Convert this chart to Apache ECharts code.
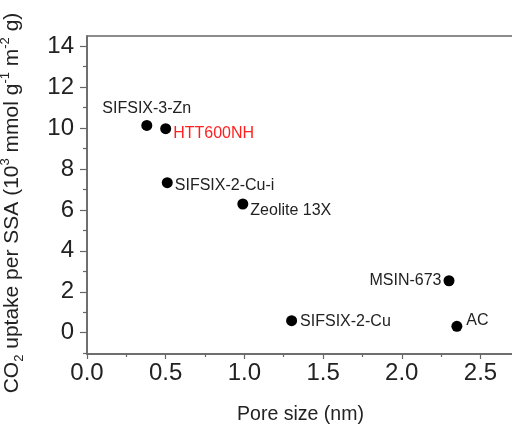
<!DOCTYPE html>
<html>
<head>
<meta charset="utf-8">
<script src="https://cdn.jsdelivr.net/npm/echarts@6/dist/echarts.min.js"></script>
<style>html,body{margin:0;padding:0;background:#fff}#c{width:512px;height:424px}</style>
</head>
<body>
<div id="c"></div>
<script>
const names = ['SIFSIX-3-Zn','HTT600NH','SIFSIX-2-Cu-i','Zeolite 13X','MSIN-673','SIFSIX-2-Cu','AC'];
const poreSize = [0.38, 0.50, 0.51, 0.99, 2.30, 1.30, 2.35];
const uptake = [10.13, 9.97, 7.33, 6.29, 2.54, 0.59, 0.31];
const xTickLabels = [0, 0.5, 1.0, 1.5, 2.0, 2.5];
const xMinorTicks = [0.25, 0.75, 1.25, 1.75, 2.25];
const yTickLabels = [0, 2, 4, 6, 8, 10, 12, 14];
const yMinorTicks = [-1, 1, 3, 5, 7, 9, 11, 13];

const FONT = 'Liberation Sans, Arial, sans-serif';
const AX = '#666';
const placement = {
  'SIFSIX-3-Zn': {position: 'top', offset: [0, 0]},
  'HTT600NH': {position: 'right', offset: [-1, 5], color: '#ff2020'},
  'SIFSIX-2-Cu-i': {position: 'right', offset: [-1, 3]},
  'Zeolite 13X': {position: 'right', offset: [-1, 7]},
  'MSIN-673': {position: 'left', offset: [1, 0]},
  'SIFSIX-2-Cu': {position: 'right', offset: [0, 1]},
  'AC': {position: 'right', offset: [1, -6]}
};

const data = names.map((n, i) => {
  const p = placement[n];
  return {
    name: n,
    value: [poreSize[i], uptake[i]],
    label: {show: true, formatter: n, position: p.position, offset: p.offset, color: p.color || '#222'}
  };
});

const chart = echarts.init(document.getElementById('c'), null, {renderer: 'canvas'});
chart.setOption({
  animation: false,
  grid: {left: 87, right: -2, top: 36, bottom: 70, show: true, borderColor: AX, borderWidth: 1.5,
    containLabel: false, outerBoundsMode: 'none'},
  xAxis: [{
    type: 'value', min: 0, max: 2.713, interval: 0.5,
    name: 'Pore size (nm)', nameLocation: 'middle', nameGap: 51,
    nameTextStyle: {fontFamily: FONT, fontSize: 19.5, color: '#222'},
    axisLine: {show: true, onZero: false, lineStyle: {color: AX, width: 1.5}},
    axisTick: {show: true, inside: false, length: 5, lineStyle: {color: AX, width: 1.2}, customValues: xTickLabels},
    axisLabel: {fontFamily: FONT, fontSize: 24, color: '#222', margin: 7, customValues: xTickLabels,
      formatter: v => v.toFixed(1)},
    splitLine: {show: false}
  }, {
    type: 'value', min: 0, max: 2.713, position: 'bottom',
    axisLine: {show: false, onZero: false},
    axisTick: {show: true, length: 3, lineStyle: {color: AX, width: 1.2}, customValues: xMinorTicks},
    axisLabel: {show: false}, splitLine: {show: false}
  }],
  yAxis: [{
    type: 'value', min: -1.04, max: 14.5, interval: 2,
    name: '{t|CO}{sub|2}{t| uptake per SSA (10}{sup|3}{t| mmol g}{sup|-1}{t| m}{sup|-2}{t| g)}',
    nameLocation: 'middle', nameGap: 61, nameRotate: 90,
    nameTextStyle: {
      fontFamily: FONT, fontSize: 21, color: '#222', padding: [0, 16, 0, 0],
      rich: {
        t: {fontFamily: FONT, fontSize: 21, color: '#222', lineHeight: 27, verticalAlign: 'middle'},
        sub: {fontFamily: FONT, fontSize: 13, color: '#222', lineHeight: 27, verticalAlign: 'bottom'},
        sup: {fontFamily: FONT, fontSize: 13, color: '#222', lineHeight: 27, verticalAlign: 'top'}
      }
    },
    axisLine: {show: true, onZero: false, lineStyle: {color: AX, width: 1.5}},
    axisTick: {show: true, inside: false, length: 7, lineStyle: {color: AX, width: 1.2}, customValues: yTickLabels},
    axisLabel: {fontFamily: FONT, fontSize: 24, color: '#222', margin: 13, customValues: yTickLabels},
    splitLine: {show: false}
  }, {
    type: 'value', min: -1.04, max: 14.5, position: 'left',
    axisLine: {show: false, onZero: false},
    axisTick: {show: true, length: 4, lineStyle: {color: AX, width: 1.2}, customValues: yMinorTicks},
    axisLabel: {show: false}, splitLine: {show: false}
  }],
  series: [{
    type: 'scatter',
    xAxisIndex: 0, yAxisIndex: 0,
    symbol: 'circle', symbolSize: 11,
    itemStyle: {color: '#000', opacity: 1},
    label: {fontFamily: FONT, fontSize: 16, distance: 3},
    data: data
  }]
});
</script>
</body>
</html>
